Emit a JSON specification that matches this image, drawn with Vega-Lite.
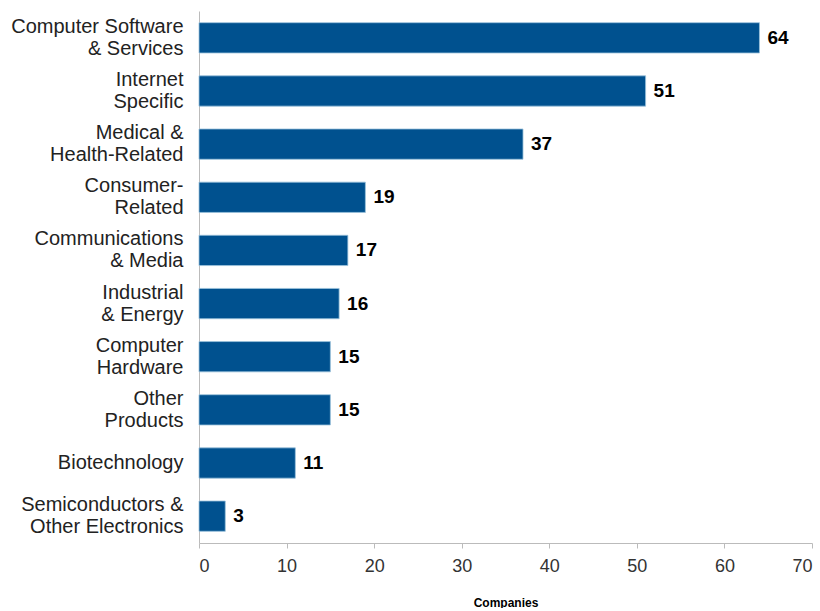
{
  "$schema": "https://vega.github.io/schema/vega-lite/v6.json",
  "width": 613,
  "height": 532,
  "padding": {"left": 10, "top": 11, "right": 9, "bottom": 0},
  "background": "white",
  "config": {"view": {"stroke": null}, "font": "Liberation Sans"},
  "data": {
    "values": [
      {"sector": "Computer Software|& Services", "companies": 64},
      {"sector": "Internet|Specific", "companies": 51},
      {"sector": "Medical &|Health-Related", "companies": 37},
      {"sector": "Consumer-|Related", "companies": 19},
      {"sector": "Communications|& Media", "companies": 17},
      {"sector": "Industrial|& Energy", "companies": 16},
      {"sector": "Computer|Hardware", "companies": 15},
      {"sector": "Other|Products", "companies": 15},
      {"sector": "Biotechnology", "companies": 11},
      {"sector": "Semiconductors &|Other Electronics", "companies": 3}
    ]
  },
  "encoding": {
    "y": {
      "field": "sector",
      "type": "nominal",
      "sort": null,
      "scale": {"paddingInner": 0.43, "paddingOuter": 0.22},
      "axis": {
        "title": null,
        "labelExpr": "split(datum.label, '|')",
        "labelFontSize": 20,
        "labelColor": "#222",
        "labelLineHeight": 22,
        "labelPadding": 16,
        "labelOffset": {"condition": {"test": "indexof(datum.value, '|') >= 0", "value": -11}, "value": 0},
        "ticks": false,
        "domainColor": "#bbbbbb",
        "labelLimit": 300
      }
    },
    "x": {
      "field": "companies",
      "type": "quantitative",
      "scale": {"domain": [0, 70], "nice": false},
      "axis": {
        "values": [0, 10, 20, 30, 40, 50, 60, 70],
        "grid": false,
        "title": "Companies",
        "titleFontSize": 12,
        "titleFontWeight": "bold",
        "titleColor": "#000",
        "titlePadding": 22,
        "labelFontSize": 18,
        "labelColor": "#333",
        "labelPadding": 9,
        "tickSize": 5,
        "tickColor": "#bbbbbb",
        "domainColor": "#bbbbbb"
      }
    }
  },
  "layer": [
    {
      "mark": {"type": "bar", "color": "#00518F", "stroke": "#9cc3dc", "strokeWidth": 0.8}
    },
    {
      "mark": {"type": "text", "align": "left", "dx": 8, "fontSize": 19, "fontWeight": "bold", "color": "#000"},
      "encoding": {"text": {"field": "companies", "type": "quantitative"}}
    }
  ]
}
